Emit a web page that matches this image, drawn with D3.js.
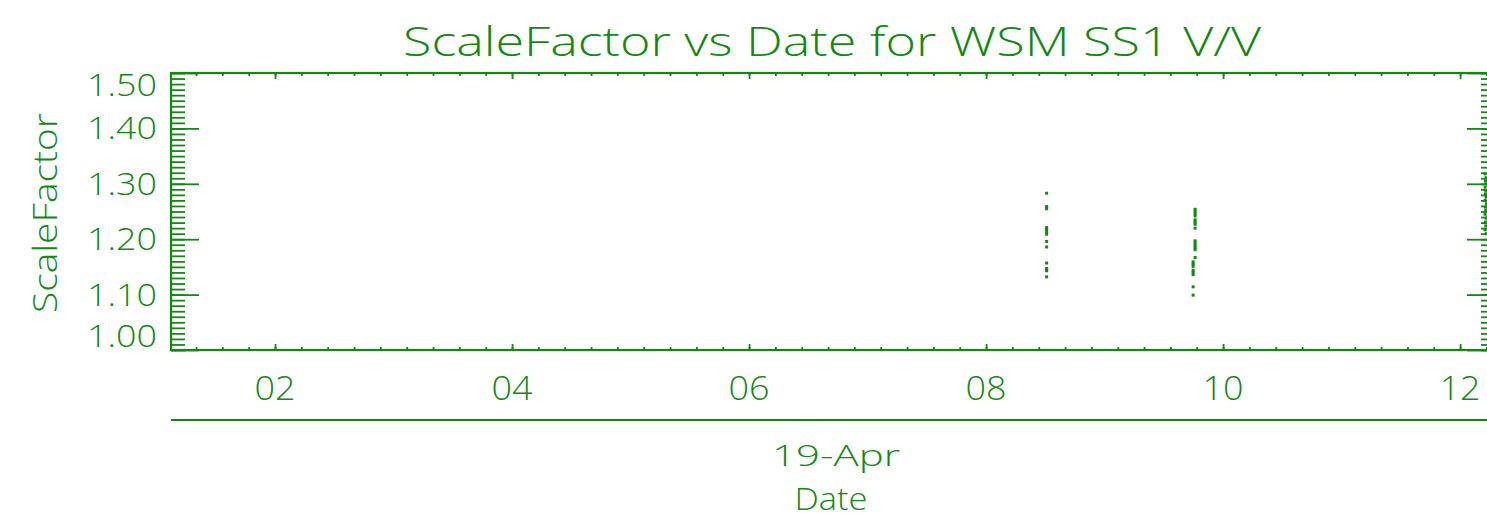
<!DOCTYPE html>
<html>
<head>
<meta charset="utf-8">
<script src="https://cdn.jsdelivr.net/npm/d3@7"></script>
<style>
  html, body { margin: 0; padding: 0; background: #ffffff; }
  svg { display: block; }
  text { font-family: "Open Sans", "Lato", "DejaVu Sans", sans-serif; font-weight: 300; fill: #128a12; }
</style>
</head>
<body>
<svg id="chart" width="1487" height="520"></svg>
<script>
// Scale factor samples, 19 April; times given as "HH:MM:SS"
const passATimes = ["08:30:40","08:30:40","08:30:40","08:30:40","08:30:40","08:30:40","08:30:40",
                    "08:30:40","08:30:40","08:30:40","08:30:40","08:30:40","08:30:40","08:30:40"];
const passAValues = [1.283, 1.259, 1.255, 1.221, 1.217, 1.213, 1.209,
                     1.196, 1.186, 1.157, 1.147, 1.145, 1.143, 1.132];

const passBTimes = ["09:45:50","09:45:50","09:45:50","09:45:50","09:45:50","09:45:50","09:45:50",
                    "09:45:50","09:45:50","09:45:50","09:45:50","09:45:50","09:45:50","09:45:50",
                    "09:44:50","09:44:50","09:44:50","09:44:50","09:44:50","09:44:50","09:44:50","09:44:50"];
const passBValues = [1.254, 1.250, 1.246, 1.242, 1.235, 1.231, 1.227,
                     1.220, 1.197, 1.193, 1.189, 1.185, 1.181, 1.167,
                     1.159, 1.155, 1.151, 1.144, 1.140, 1.136, 1.114, 1.099];

const passCTimes = ["12:12:40","12:13:10","12:12:50","12:13:20","12:12:40","12:13:00","12:12:50",
                    "12:13:10","12:12:40","12:13:20","12:12:50","12:13:00","12:12:40","12:13:10",
                    "12:12:50","12:13:00","12:12:40","12:13:20"];
const passCValues = [1.318, 1.311, 1.305, 1.300, 1.294, 1.288, 1.282,
                     1.276, 1.270, 1.264, 1.258, 1.252, 1.245, 1.238,
                     1.231, 1.224, 1.217, 1.210];

const yTickLabels = ["1.00", "1.10", "1.20", "1.30", "1.40", "1.50"];
const xTickLabels = ["02", "04", "06", "08", "10", "12"];
const dayLabel = "19-Apr";
const titleText = "ScaleFactor vs Date for WSM SS1 V/V";

const GREEN = "#128a12";
const dayPrefix = "2008-04-19T";
const parseTime = d3.utcParse("%Y-%m-%dT%H:%M:%S");
const toDate = t => parseTime(dayPrefix + t);

const samples = []
  .concat(passATimes.map((t, i) => ({ t: toDate(t), v: passAValues[i] })))
  .concat(passBTimes.map((t, i) => ({ t: toDate(t), v: passBValues[i] })))
  .concat(passCTimes.map((t, i) => ({ t: toDate(t), v: passCValues[i] })));

const svg = d3.select("#chart");
const plotL = 171, plotT = 73, plotR = 1495, plotB = 350;
const axis2Y = 420;

const x = d3.scaleUtc()
  .domain([toDate("01:07:20"), toDate("12:17:40")])
  .range([plotL, plotR]);
const y = d3.scaleLinear().domain([1.0, 1.5]).range([plotB, plotT]);

// Tick positions
const HOUR = 3600 * 1000;
const dayStart = toDate("00:00:00").getTime();
const majorX = xTickLabels.map(h => toDate(h + ":00:00"));
const minorX = d3.range(0, 14 * 9).map(k => new Date(dayStart + k * (2 * HOUR / 9)))
  .filter(d => d >= x.domain()[0] && d <= x.domain()[1]);
const majorY = yTickLabels.map(Number);
const minorY = d3.range(100, 151).map(k => k / 100);

// y ticks, left and right sides, pointing inward
const yLeft = svg.append("g").attr("transform", `translate(${plotL},0)`)
  .call(d3.axisRight(y).tickValues(minorY).tickSize(14).tickFormat(""));
const yLeftMaj = svg.append("g").attr("transform", `translate(${plotL},0)`)
  .call(d3.axisRight(y).tickValues(majorY).tickSize(28).tickFormat(""));
const yRight = svg.append("g").attr("transform", `translate(${plotR},0)`)
  .call(d3.axisLeft(y).tickValues(minorY).tickSize(14).tickFormat(""));
const yRightMaj = svg.append("g").attr("transform", `translate(${plotR},0)`)
  .call(d3.axisLeft(y).tickValues(majorY).tickSize(28).tickFormat(""));

// x ticks, bottom and top sides, pointing inward
const xBot = svg.append("g").attr("transform", `translate(0,${plotB})`)
  .call(d3.axisTop(x).tickValues(minorX).tickSize(3).tickFormat(""));
const xBotMaj = svg.append("g").attr("transform", `translate(0,${plotB})`)
  .call(d3.axisTop(x).tickValues(majorX).tickSize(6).tickFormat(""));
const xTop = svg.append("g").attr("transform", `translate(0,${plotT})`)
  .call(d3.axisBottom(x).tickValues(minorX).tickSize(3).tickFormat(""));
const xTopMaj = svg.append("g").attr("transform", `translate(0,${plotT})`)
  .call(d3.axisBottom(x).tickValues(majorX).tickSize(6).tickFormat(""));

[yLeft, yLeftMaj, yRight, yRightMaj, xBot, xBotMaj, xTop, xTopMaj].forEach(g => {
  g.select(".domain").remove();
  g.selectAll(".tick line").attr("stroke", GREEN).attr("stroke-width", 1.8);
});

const frame = svg.append("g").attr("stroke", GREEN).attr("fill", "none");

// plot frame
frame.append("rect")
  .attr("x", plotL).attr("y", plotT)
  .attr("width", plotR - plotL).attr("height", plotB - plotT)
  .attr("stroke-width", 2.2);

// secondary date axis line
frame.append("line")
  .attr("x1", plotL).attr("x2", plotR)
  .attr("y1", axis2Y).attr("y2", axis2Y)
  .attr("stroke-width", 2.2);

// y tick labels (end labels kept inside the frame)
svg.append("g").selectAll("text")
  .data(majorY)
  .join("text")
  .attr("x", 157)
  .attr("y", d => Math.min(Math.max(y(d), plotT + 12), plotB - 14) + 11)
  .attr("text-anchor", "end")
  .attr("font-size", 31)
  .attr("textLength", 70)
  .attr("lengthAdjust", "spacingAndGlyphs")
  .text((d, i) => yTickLabels[i]);

// x tick labels
svg.append("g").selectAll("text")
  .data(majorX)
  .join("text")
  .attr("x", d => x(d))
  .attr("y", 400)
  .attr("text-anchor", "middle")
  .attr("font-size", 33)
  .attr("textLength", 41)
  .attr("lengthAdjust", "spacingAndGlyphs")
  .text((d, i) => xTickLabels[i]);

// date and axis titles
svg.append("text")
  .attr("x", 836).attr("y", 466)
  .attr("text-anchor", "middle").attr("font-size", 30)
  .attr("textLength", 128).attr("lengthAdjust", "spacingAndGlyphs")
  .text(dayLabel);
svg.append("text")
  .attr("x", 831).attr("y", 510)
  .attr("text-anchor", "middle").attr("font-size", 31)
  .attr("textLength", 73).attr("lengthAdjust", "spacingAndGlyphs")
  .text("Date");
svg.append("text")
  .attr("transform", "translate(57,213) rotate(-90)")
  .attr("text-anchor", "middle").attr("font-size", 33)
  .attr("textLength", 200).attr("lengthAdjust", "spacingAndGlyphs")
  .text("ScaleFactor");
svg.append("text")
  .attr("x", 832).attr("y", 56)
  .attr("text-anchor", "middle").attr("font-size", 40)
  .attr("textLength", 858).attr("lengthAdjust", "spacingAndGlyphs")
  .text(titleText);

// data points
svg.append("g").attr("fill", GREEN)
  .selectAll("rect")
  .data(samples)
  .join("rect")
  .attr("x", d => x(d.t) - 1.5)
  .attr("y", d => y(d.v) - 1.5)
  .attr("width", 3).attr("height", 3);
</script>
</body>
</html>
